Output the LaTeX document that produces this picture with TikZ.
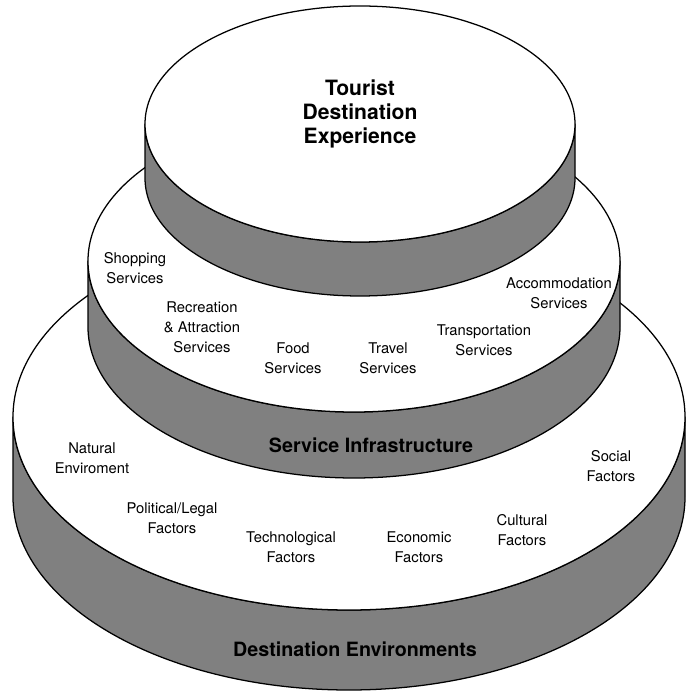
\documentclass[tikz,border=0pt]{standalone}
\usepackage{fontspec}
\setmainfont{TeX Gyre Heros}

\begin{document}
\begin{tikzpicture}[x=0.025cm,y=0.025cm,line join=round]
  % Local definitions
  \def\tier#1#2#3#4#5{%
    \filldraw[style=side] (#1-#3,#2) -- (#1-#3,#2-#5)
      arc (180:360:#3 and #4) -- (#1+#3,#2) arc (0:-180:#3 and #4) -- cycle;
    \filldraw[style=top face] (#1,#2) ellipse (#3 and #4);
  }

  % Colors
  \colorlet{sidecolor}{black!50}
  \colorlet{facecolor}{white}

  % Styles
  \tikzstyle{side}=[fill=sidecolor,draw=black,line width=0.9pt]
  \tikzstyle{top face}=[fill=facecolor,draw=black,line width=0.9pt]
  \tikzstyle{item}=[align=center,font=\fontsize{10.5}{14.2}\selectfont]
  \tikzstyle{level title}=[align=center,font=\fontsize{14}{16.7}\selectfont\bfseries]

  \useasboundingbox (0,0) rectangle (691,692);

  % The graphic
  \tier{349}{275}{336}{193}{80}
  \tier{354}{431}{266}{151}{66}
  \tier{360}{568}{215}{118}{54}

  % Tourist destination experience
  \node[level title,font=\fontsize{15}{17}\selectfont\bfseries] (experience) at (360,578)
    {Tourist\\Destination\\Experience};

  % Service infrastructure
  \node[item] (shopping) at (135,424) {Shopping\\Services};
  \node[item] (recreation) at (202,365) {Recreation\\\& Attraction\\Services};
  \node[item] (food) at (293,334) {Food\\Services};
  \node[item] (travel) at (388,334) {Travel\\Services};
  \node[item] (transport) at (484,352) {Transportation\\Services};
  \node[item] (accommodation) at (559,399) {Accommodation\\Services};
  \node[level title] (infrastructure) at (371,247) {Service Infrastructure};

  % Destination environments
  \node[item] (natural) at (92,234) {Natural\\Enviroment};
  \node[item] (political) at (172,174) {Political/Legal\\Factors};
  \node[item] (technological) at (291,145) {Technological\\Factors};
  \node[item] (economic) at (419,145) {Economic\\Factors};
  \node[item] (cultural) at (522,162) {Cultural\\Factors};
  \node[item] (social) at (611,226) {Social\\Factors};
  \node[level title] (environments) at (355,43) {Destination Environments};
\end{tikzpicture}
\end{document}
